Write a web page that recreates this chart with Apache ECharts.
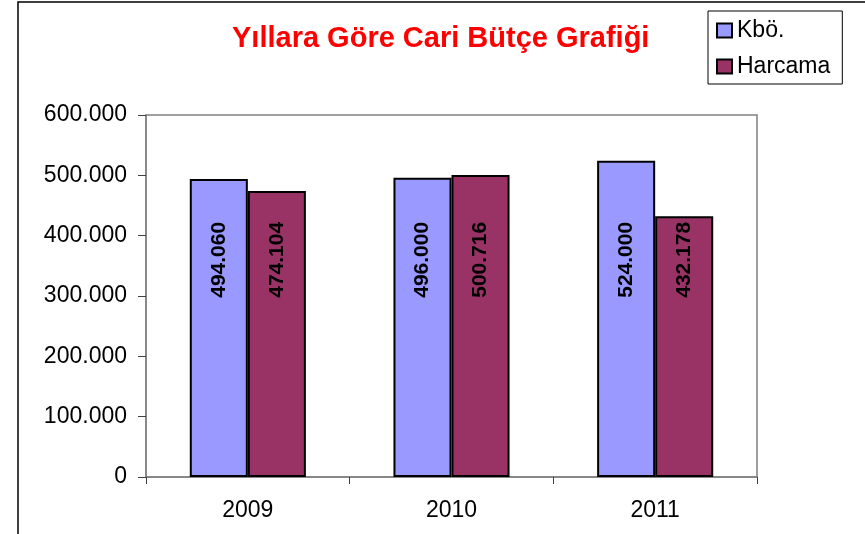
<!DOCTYPE html>
<html>
<head>
<meta charset="utf-8">
<style>html,body{margin:0;padding:0;background:#fff;}#c{width:865px;height:534px;}</style>
<script src="https://cdn.jsdelivr.net/npm/echarts@6/dist/echarts.min.js"></script>
</head>
<body>
<div id="c"></div>
<script>
var categories = ['2009', '2010', '2011'];
var seriesNames = ['Kbö.', 'Harcama'];
var kboValues = [494060, 496000, 524000];
var harcamaValues = [474104, 500716, 432178];
var yTicks = [0, 100000, 200000, 300000, 400000, 500000, 600000];
var titleText = 'Yıllara Göre Cari Bütçe Grafiği';

var FONT = '"Liberation Sans", Arial, sans-serif';
var allValues = [kboValues, harcamaValues];
var LABEL_ANCHOR_VALUE = 360000;

function fmt(v) {
  return String(v).replace(/\B(?=(\d{3})+(?!\d))/g, '.');
}

var chart = echarts.init(document.getElementById('c'), null, {renderer: 'canvas'});

function barSeries(name, data, color) {
  return {
    name: name,
    type: 'bar',
    data: data,
    barGap: '0%',
    barCategoryGap: '43%',
    itemStyle: {color: color, borderColor: '#000', borderWidth: 2},
    label: {
      show: true,
      position: 'inside',
      rotate: 90,
      color: '#000',
      fontFamily: FONT,
      fontWeight: 'bold',
      fontSize: 21,
      formatter: function (p) { return fmt(p.value); }
    }
  };
}

chart.setOption({
  animation: false,
  backgroundColor: '#fff',
  title: {
    text: titleText,
    left: 232,
    top: 24,
    padding: 0,
    textStyle: {color: '#FF0000', fontFamily: FONT, fontWeight: 'bold', fontSize: 29}
  },
  legend: {
    orient: 'vertical',
    left: 708,
    top: 11,
    padding: [8, 12, 6, 8],
    itemGap: 13,
    itemWidth: 15,
    itemHeight: 14,
    icon: 'rect',
    borderColor: '#000',
    borderWidth: 1,
    backgroundColor: '#fff',
    textStyle: {color: '#000', fontFamily: FONT, fontSize: 23, lineHeight: 23},
    data: seriesNames
  },
  graphic: [{
    type: 'polyline',
    shape: {points: [[18, 600], [18, 2], [900, 2]]},
    style: {stroke: '#000', lineWidth: 1.5, fill: null},
    silent: true
  }],
  grid: {
    left: 146, right: 108, top: 115, bottom: 57,
    show: true,
    borderColor: '#808080',
    borderWidth: 1.5,
    backgroundColor: '#fff'
  },
  xAxis: {
    type: 'category',
    data: categories,
    axisLine: {lineStyle: {color: '#808080', width: 1.5}},
    axisTick: {show: true, length: 7, lineStyle: {color: '#404040', width: 1}},
    axisLabel: {color: '#000', fontFamily: FONT, fontSize: 23, margin: 22}
  },
  yAxis: {
    type: 'value',
    min: yTicks[0],
    max: yTicks[yTicks.length - 1],
    interval: yTicks[1] - yTicks[0],
    splitLine: {show: false},
    axisLine: {show: true, lineStyle: {color: '#808080', width: 1.5}},
    axisTick: {show: true, length: 8, lineStyle: {color: '#404040', width: 1}},
    axisLabel: {color: '#000', fontFamily: FONT, fontSize: 23, margin: 19, formatter: function (v) { return fmt(v); }}
  },
  labelLayout: function (p) {
    var v = allValues[p.seriesIndex][p.dataIndex];
    var bottom = p.rect.y + p.rect.height;
    var yc = bottom - LABEL_ANCHOR_VALUE * p.rect.height / v;
    return {x: p.rect.x + p.rect.width / 2, y: yc, align: 'center', verticalAlign: 'middle'};
  },
  series: [
    barSeries(seriesNames[0], kboValues, '#9999FF'),
    barSeries(seriesNames[1], harcamaValues, '#993366')
  ]
});
</script>
</body>
</html>
